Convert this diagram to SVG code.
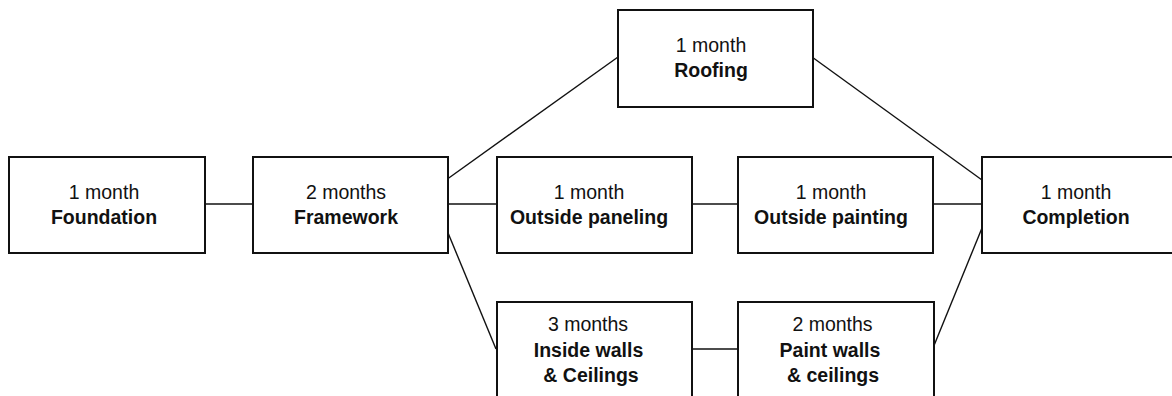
<svg xmlns="http://www.w3.org/2000/svg" width="1172" height="396" viewBox="0 0 1172 396">
  <style>
    .box { fill: #ffffff; stroke: #111111; stroke-width: 2; }
    .link { stroke: #111111; stroke-width: 1.4; fill: none; }
    text { font-family: "Liberation Sans", Arial, sans-serif; font-size: 19.5px; fill: #111111; text-anchor: middle; }
    .name { font-weight: bold; }
  </style>
  <rect width="1172" height="396" fill="#ffffff"/>

  <!-- connectors -->
  <g id="connectors">
    <line class="link" x1="205" y1="204" x2="253" y2="204"/>
    <line class="link" x1="446" y1="180" x2="618" y2="57"/>
    <line class="link" x1="446" y1="204" x2="497" y2="204"/>
    <line class="link" x1="446" y1="228" x2="496" y2="349"/>
    <line class="link" x1="690" y1="204" x2="738" y2="204"/>
    <line class="link" x1="812" y1="57" x2="982" y2="180"/>
    <line class="link" x1="933" y1="204" x2="982" y2="204"/>
    <line class="link" x1="690" y1="349" x2="738" y2="349"/>
    <line class="link" x1="933" y1="348" x2="982" y2="228"/>
  </g>

  <g id="foundation">
    <rect class="box" x="9" y="157" width="196" height="96"/>
    <text x="104" y="199">1 month</text>
    <text class="name" x="104" y="224">Foundation</text>
  </g>

  <g id="framework">
    <rect class="box" x="253" y="157" width="195" height="96"/>
    <text x="346" y="199">2 months</text>
    <text class="name" x="346" y="224">Framework</text>
  </g>

  <g id="roofing">
    <rect class="box" x="618" y="10" width="195" height="97"/>
    <text x="711" y="52">1 month</text>
    <text class="name" x="711" y="77">Roofing</text>
  </g>

  <g id="outside-paneling">
    <rect class="box" x="497" y="157" width="195" height="96"/>
    <text x="589" y="199">1 month</text>
    <text class="name" x="589" y="224">Outside paneling</text>
  </g>

  <g id="outside-painting">
    <rect class="box" x="738" y="157" width="195" height="96"/>
    <text x="831" y="199">1 month</text>
    <text class="name" x="831" y="224">Outside painting</text>
  </g>

  <g id="completion">
    <rect class="box" x="982" y="157" width="196" height="96"/>
    <text x="1076" y="199">1 month</text>
    <text class="name" x="1076" y="224">Completion</text>
  </g>

  <g id="inside-walls">
    <rect class="box" x="497" y="302" width="195" height="100"/>
    <text x="588" y="331">3 months</text>
    <text class="name" x="588.5" y="357">Inside walls</text>
    <text class="name" x="591" y="382">&amp; Ceilings</text>
  </g>

  <g id="paint-walls">
    <rect class="box" x="738" y="302" width="196" height="100"/>
    <text x="832.5" y="331">2 months</text>
    <text class="name" x="830" y="357">Paint walls</text>
    <text class="name" x="833" y="382">&amp; ceilings</text>
  </g>
</svg>
